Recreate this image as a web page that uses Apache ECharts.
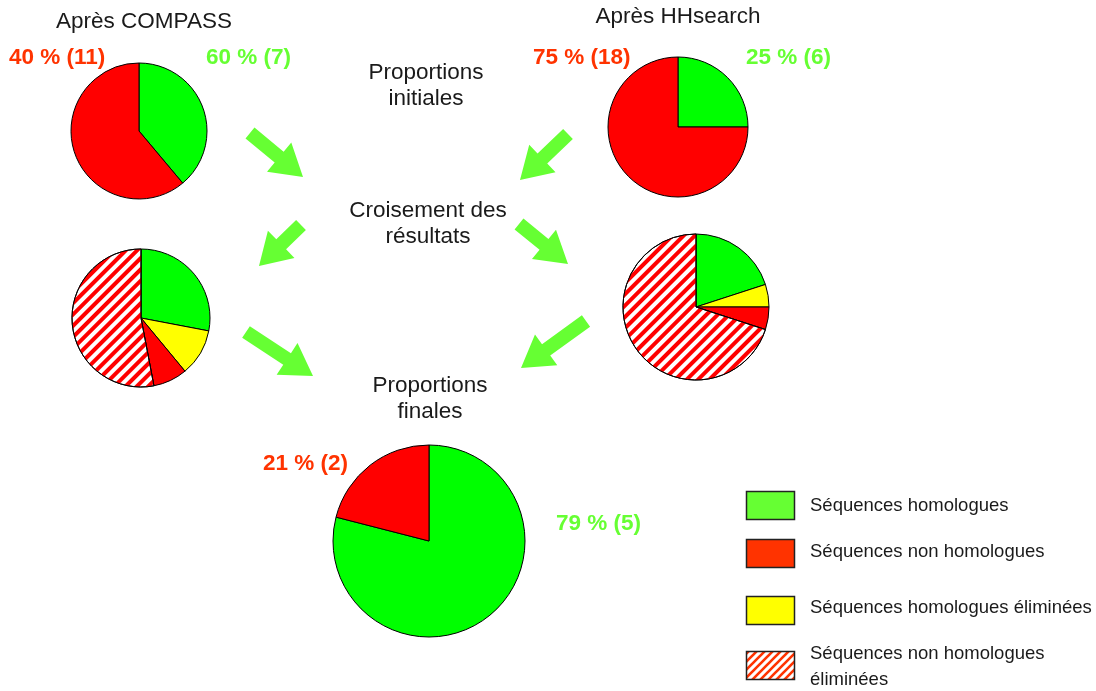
<!DOCTYPE html>
<html>
<head>
<meta charset="utf-8">
<script src="https://cdn.jsdelivr.net/npm/echarts@6/dist/echarts.min.js"></script>
<style>
html,body{margin:0;padding:0;background:#fff;}
#chart{width:1096px;height:691px;}
</style>
</head>
<body>
<div id="chart"></div>
<script>
// ---- Data ----
const categories = ['Séquences homologues', 'Séquences non homologues', 'Séquences homologues éliminées', 'Séquences non homologues éliminées'];
const compassInitial = [7, 11];          // homologues, non homologues
const hhsearchInitial = [6, 18];         // homologues, non homologues
const compassCross = [28, 11, 8, 53];    // homologues, homol. éliminées, non homol., non homol. éliminées
const hhsearchCross = [20, 5, 5, 70];
const finalProps = [79, 21];             // homologues, non homologues
const labelsCompass = ['40 % (11)', '60 % (7)'];
const labelsHH = ['75 % (18)', '25 % (6)'];
const labelsFinal = ['21 % (2)', '79 % (5)'];

const GREEN = '#00ff00', RED = '#ff0000', YELLOW = '#ffff00';
const LG_GREEN = '#66ff33', LG_RED = '#ff3300';
const FONT = '"Liberation Sans", Arial, sans-serif';

const hatchDecal = {symbol: 'rect', symbolSize: 1, color: RED, dashArrayX: [1, 0], dashArrayY: [4, 4], rotation: -Math.PI / 4};

function pieSeries(center, r, values, styles) {
  return {
    type: 'pie', center: center, radius: r, silent: true,
    startAngle: 90, clockwise: true,
    label: {show: false}, labelLine: {show: false},
    emphasis: {disabled: true},
    itemStyle: {borderColor: '#000', borderWidth: 1},
    data: values.map((v, i) => Object.assign({value: v}, styles[i]))
  };
}
const sGreen = {name: categories[0], itemStyle: {color: GREEN}};
const sRed = {name: categories[1], itemStyle: {color: RED}};
const sYellow = {name: categories[2], itemStyle: {color: YELLOW}};
const sHatch = {name: categories[3], itemStyle: {color: '#ffffff', decal: hatchDecal}};

// ---- arrows ----
function arrowPoints(tail, tip) {
  const dx = tip[0] - tail[0], dy = tip[1] - tail[1];
  const len = Math.sqrt(dx * dx + dy * dy);
  const ux = dx / len, uy = dy / len, nx = -uy, ny = ux;
  const w = 7, h = 19, L = 31;
  const bx = tip[0] - ux * L, by = tip[1] - uy * L;
  return [
    [tail[0] + nx * w, tail[1] + ny * w],
    [bx + nx * w, by + ny * w],
    [bx + nx * h, by + ny * h],
    [tip[0], tip[1]],
    [bx - nx * h, by - ny * h],
    [bx - nx * w, by - ny * w],
    [tail[0] - nx * w, tail[1] - ny * w]
  ];
}
const arrows = [
  [[250, 133], [303, 177]],
  [[568, 134], [520, 180]],
  [[301, 225], [259, 266]],
  [[519, 224], [568, 264]],
  [[246, 332], [313, 376]],
  [[586, 321], [521, 368]]
];

// hatch pattern for legend box
const pc = document.createElement('canvas');
pc.width = 8; pc.height = 8;
const pctx = pc.getContext('2d');
pctx.fillStyle = '#fff'; pctx.fillRect(0, 0, 8, 8);
pctx.strokeStyle = LG_RED; pctx.lineWidth = 2.6;
pctx.beginPath();
pctx.moveTo(-2, 10); pctx.lineTo(10, -2);
pctx.moveTo(-6, 6); pctx.lineTo(6, -6);
pctx.moveTo(2, 14); pctx.lineTo(14, 2);
pctx.stroke();

function txt(x, y, text, opt) {
  return {
    type: 'text', x: x, y: y, silent: true,
    style: Object.assign({text: text, font: '22.5px ' + FONT, fill: '#1a1a1a', textAlign: 'center', textVerticalAlign: 'middle'}, opt || {})
  };
}
const boldLbl = (x, y, text, color) => txt(x, y, text, {font: 'bold 22.5px ' + FONT, fill: color, textAlign: 'left'});

const graphics = [];
arrows.forEach(a => graphics.push({type: 'polygon', silent: true, shape: {points: arrowPoints(a[0], a[1])}, style: {fill: LG_GREEN}}));

graphics.push(txt(144, 22, 'Après COMPASS'));
graphics.push(txt(678, 17, 'Après HHsearch'));
graphics.push(boldLbl(9, 58, labelsCompass[0], LG_RED));
graphics.push(boldLbl(206, 58, labelsCompass[1], LG_GREEN));
graphics.push(boldLbl(533, 58, labelsHH[0], LG_RED));
graphics.push(boldLbl(746, 58, labelsHH[1], LG_GREEN));
graphics.push(boldLbl(263, 464, labelsFinal[0], LG_RED));
graphics.push(boldLbl(556, 524, labelsFinal[1], LG_GREEN));
graphics.push(txt(426, 73, 'Proportions'));
graphics.push(txt(426, 99, 'initiales'));
graphics.push(txt(428, 211, 'Croisement des'));
graphics.push(txt(428, 237, 'résultats'));
graphics.push(txt(430, 386, 'Proportions'));
graphics.push(txt(430, 412, 'finales'));

// legend
const legendTops = [491, 539, 596, 651];
const legendFills = [LG_GREEN, LG_RED, YELLOW, {image: pc, repeat: 'repeat'}];
legendTops.forEach((t, i) => {
  graphics.push({type: 'rect', silent: true, shape: {x: 746.5, y: t + 0.5, width: 48, height: 28}, style: {fill: legendFills[i], stroke: '#222', lineWidth: 1.5}});
});
const lgTxt = (y, t) => txt(810, y, t, {font: '18.5px ' + FONT, textAlign: 'left'});
graphics.push(lgTxt(506, categories[0]));
graphics.push(lgTxt(552, categories[1]));
graphics.push(lgTxt(608, categories[2]));
graphics.push(lgTxt(654, 'Séquences non homologues'));
graphics.push(lgTxt(680, 'éliminées'));

const chart = echarts.init(document.getElementById('chart'));
chart.setOption({
  animation: false,
  backgroundColor: '#fff',
  series: [
    pieSeries([139, 131], 68, compassInitial, [sGreen, sRed]),
    pieSeries([678, 127], 70, hhsearchInitial, [sGreen, sRed]),
    pieSeries([141, 318], 69, compassCross, [sGreen, sYellow, sRed, sHatch]),
    pieSeries([696, 307], 73, hhsearchCross, [sGreen, sYellow, sRed, sHatch]),
    pieSeries([429, 541], 96, finalProps, [sGreen, sRed])
  ],
  graphic: graphics
});
</script>
</body>
</html>
